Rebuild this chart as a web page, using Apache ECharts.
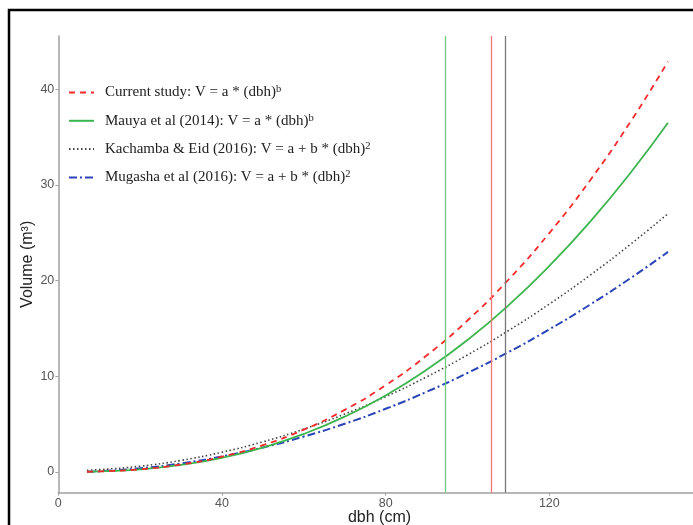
<!DOCTYPE html>
<html>
<head>
<meta charset="utf-8">
<script src="https://cdn.jsdelivr.net/npm/echarts@6/dist/echarts.min.js"></script>
<style>html,body{margin:0;padding:0;background:#fff}#c{width:693px;height:525px}</style>
</head>
<body>
<div id="c"></div>
<script>
var dbh = [7, 10, 20, 30, 40, 50, 60, 70, 80, 90, 100, 110, 120, 130, 140, 149];
var currentStudy = [0.02, 0.05, 0.28, 0.78, 1.60, 2.80, 4.42, 6.49, 9.06, 12.17, 15.83, 20.09, 24.97, 30.5, 36.71, 42.9];
var mauya = [0.02, 0.05, 0.27, 0.73, 1.47, 2.54, 3.97, 5.78, 8.00, 10.67, 13.79, 17.41, 21.53, 26.17, 31.35, 36.5];
var kachamba = [0.18, 0.24, 0.60, 1.21, 2.06, 3.15, 4.48, 6.05, 7.87, 9.93, 12.23, 14.77, 17.55, 20.58, 23.85, 27.0];
var mugasha = [0.01, 0.06, 0.38, 0.89, 1.62, 2.55, 3.70, 5.04, 6.60, 8.37, 10.34, 12.52, 14.90, 17.50, 20.30, 23.0];
var vlines = [94.5, 105.9, 109.3];
var xTicks = [0, 40, 80, 120];
var yTicks = [0, 10, 20, 30, 40];
var names = [
  'Current study: V = a * (dbh){s|b}',
  'Mauya et al (2014): V = a * (dbh){s|b}',
  'Kachamba & Eid (2016): V = a + b * (dbh){s|2}',
  'Mugasha et al (2016): V = a + b * (dbh){s|2}'
];
var keys = ['cs', 'ma', 'ka', 'mu'];
var labelMap = {};
keys.forEach(function (k, i) { labelMap[k] = names[i]; });

function pairs(arr) { return dbh.map(function (d, i) { return [d, arr[i]]; }); }

var chart = echarts.init(document.getElementById('c'), null, {renderer: 'canvas'});
chart.setOption({
  animation: false,
  backgroundColor: '#fff',
  graphic: [{
    type: 'rect', shape: {x: 9, y: 10, width: 720, height: 540},
    style: {fill: 'none', stroke: '#000', lineWidth: 2.5}, z: 100
  }],
  grid: {left: 58.3, top: 36, width: 642.4, height: 456.7, outerBoundsMode: 'none', containLabel: false},
  legend: {
    orient: 'vertical', left: 63, top: 79, itemWidth: 25, itemHeight: 14, itemGap: 12.3,
    data: keys,
    itemStyle: {opacity: 0},
    formatter: function (k) { return labelMap[k]; },
    textStyle: {
      fontFamily: 'Liberation Serif', fontSize: 15, color: '#222', padding: [0, 0, 0, 6],
      rich: {s: {fontFamily: 'Liberation Serif', fontSize: 10.5, color: '#222', verticalAlign: 'top', padding: [0, 0, 6, 0]}}
    }
  },
  xAxis: {
    type: 'value', min: 0, max: 157, interval: 40,
    name: 'dbh (cm)', nameLocation: 'middle', nameGap: 17, nameMoveOverlap: false,
    nameTextStyle: {fontFamily: 'Liberation Sans', fontSize: 16, color: '#222', verticalAlign: 'top'},
    axisLine: {onZero: false, lineStyle: {color: '#a0a0a0', width: 1.5}},
    axisTick: {show: true, length: 3, customValues: xTicks, lineStyle: {color: '#a0a0a0'}},
    axisLabel: {fontFamily: 'Liberation Sans', fontSize: 12.5, color: '#555', margin: 4, customValues: xTicks},
    splitLine: {show: false}
  },
  yAxis: {
    type: 'value', min: -2.17, max: 45.57,
    name: 'Volume (m³)', nameLocation: 'middle', nameGap: 23, nameRotate: 90, nameMoveOverlap: false,
    nameTextStyle: {fontFamily: 'Liberation Sans', fontSize: 16, color: '#222'},
    axisLine: {lineStyle: {color: '#a0a0a0', width: 1.5}},
    axisTick: {show: true, length: 3, customValues: yTicks, lineStyle: {color: '#a0a0a0'}},
    axisLabel: {fontFamily: 'Liberation Sans', fontSize: 12.5, color: '#555', margin: 4, customValues: yTicks},
    splitLine: {show: false}
  },
  series: [
    {
      name: 'cs', type: 'line', smooth: true, symbol: 'none', data: pairs(currentStudy),
      lineStyle: {color: '#f52a2a', width: 1.8, type: [6, 5]}, itemStyle: {color: '#f52a2a'}, z: 4,
      markLine: {
        silent: true, symbol: 'none', label: {show: false},
        data: [
          {xAxis: vlines[0], lineStyle: {color: '#6fc97e', width: 1.3, type: 'solid'}},
          {xAxis: vlines[1], lineStyle: {color: '#f07878', width: 1.3, type: 'solid'}},
          {xAxis: vlines[2], lineStyle: {color: '#777', width: 1.3, type: 'solid'}}
        ]
      }
    },
    {
      name: 'ma', type: 'line', smooth: true, symbol: 'none', data: pairs(mauya),
      lineStyle: {color: '#3cb54e', width: 1.8, type: 'solid'}, itemStyle: {color: '#3cb54e'}, z: 3
    },
    {
      name: 'ka', type: 'line', smooth: true, symbol: 'none', data: pairs(kachamba),
      lineStyle: {color: '#444', width: 1.6, type: [1.5, 2.5]}, itemStyle: {color: '#444'}, z: 2
    },
    {
      name: 'mu', type: 'line', smooth: true, symbol: 'none', data: pairs(mugasha),
      lineStyle: {color: '#2a45b8', width: 2, type: [8, 3, 2, 3]}, itemStyle: {color: '#2a45b8'}, z: 1
    }
  ]
});
</script>
</body>
</html>
